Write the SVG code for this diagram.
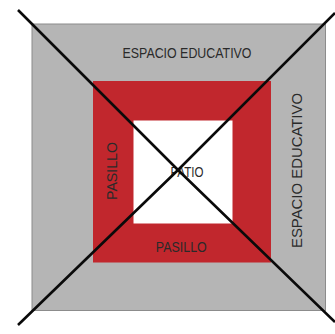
<svg xmlns="http://www.w3.org/2000/svg" width="335" height="334" viewBox="0 0 335 334">
<style>
.lbl{font-family:"Liberation Sans",Arial,sans-serif;fill:#2a2a2a;text-anchor:middle}
.cross{fill:none;stroke:#0a0a0a;stroke-width:2.6;stroke-linecap:butt}
</style>
<rect width="335" height="334" fill="#ffffff"/>
<g id="espacio-educativo">
<rect x="32" y="24" width="293.5" height="286.5" fill="#b5b5b5" stroke="#8c8c8c" stroke-width="1"/>
<text class="lbl" x="187" y="58" font-size="14.5" textLength="129" lengthAdjust="spacingAndGlyphs">ESPACIO EDUCATIVO</text>
<text class="lbl" transform="translate(301.5,170.5) rotate(-90)" x="0" y="0" font-size="14" textLength="155" lengthAdjust="spacingAndGlyphs">ESPACIO EDUCATIVO</text>
</g>
<g id="pasillo">
<rect x="93" y="81" width="178" height="181.5" fill="#c1272d"/>
<text class="lbl" transform="translate(116.5,171) rotate(-90)" x="0" y="0" font-size="14" textLength="58" lengthAdjust="spacingAndGlyphs">PASILLO</text>
<text class="lbl" x="181.3" y="251.7" font-size="14.5" textLength="51" lengthAdjust="spacingAndGlyphs">PASILLO</text>
</g>
<g id="patio">
<rect x="133.5" y="120.5" width="99" height="103" fill="#ffffff"/>
<text class="lbl" x="187" y="176.7" font-size="14.5" textLength="33" lengthAdjust="spacingAndGlyphs">PATIO</text>
</g>
<g id="connectors">
<polyline class="cross" points="18,10 178,170 335,322"/>
<polyline class="cross" points="335,13 178,170 18,325"/>
</g>
</svg>
